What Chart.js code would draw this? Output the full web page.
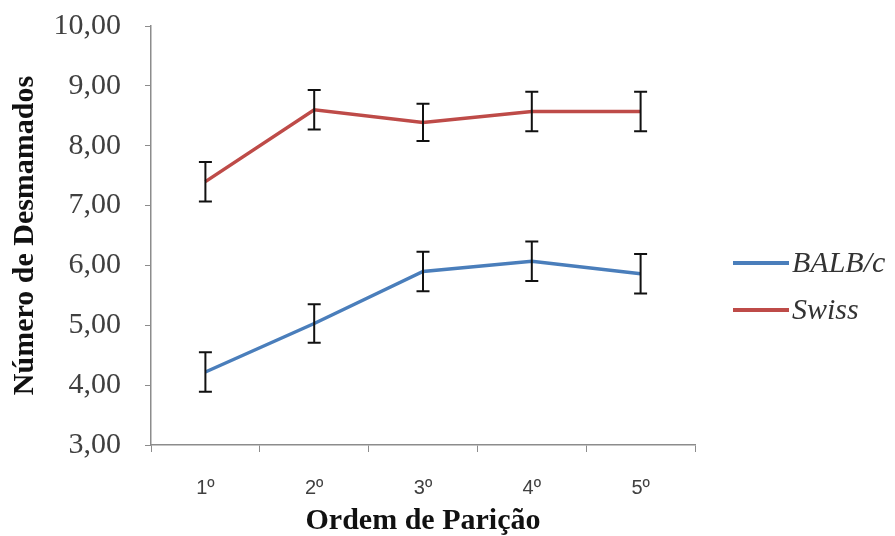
<!DOCTYPE html>
<html>
<head>
<meta charset="utf-8">
<script src="https://cdn.jsdelivr.net/npm/chart.js@4"></script>
<style>
    body { margin: 0; background: #fff; }
    #wrap { width: 895px; height: 536px; }
</style>
</head>
<body>
<div id="wrap"><canvas id="chart" width="895" height="536"></canvas></div>
<script>
// Data
const categories = ['1º', '2º', '3º', '4º', '5º'];
const balbValues = [4.22, 5.03, 5.90, 6.07, 5.86];
const balbErrors = [0.33, 0.32, 0.33, 0.33, 0.33];
const swissValues = [7.40, 8.60, 8.39, 8.57, 8.57];
const swissErrors = [0.33, 0.33, 0.31, 0.33, 0.33];
const yMin = 3;
const yMax = 10;

const axisGray = '#8c8c8c';

// Error bars drawn from the scales
const errorBarPlugin = {
    id: 'errorBars',
    afterDatasetsDraw(chart) {
        const ctx = chart.ctx;
        const xs = chart.scales.x;
        const ys = chart.scales.y;
        ctx.save();
        ctx.strokeStyle = '#111';
        ctx.lineWidth = 2;
        chart.data.datasets.forEach(ds => {
            ds.data.forEach((v, i) => {
                const e = ds.errors[i];
                const x = xs.getPixelForValue(i);
                const top = ys.getPixelForValue(v + e);
                const bot = ys.getPixelForValue(v - e);
                ctx.beginPath();
                ctx.moveTo(x, top); ctx.lineTo(x, bot);
                ctx.moveTo(x - 6.5, top); ctx.lineTo(x + 6.5, top);
                ctx.moveTo(x - 6.5, bot); ctx.lineTo(x + 6.5, bot);
                ctx.stroke();
            });
        });
        ctx.restore();
    }
};

// Legend on the right, Excel style
const sideLegendPlugin = {
    id: 'sideLegend',
    afterDraw(chart) {
        const ctx = chart.ctx;
        const rows = [263, 310];
        ctx.save();
        chart.data.datasets.forEach((ds, i) => {
            const y = rows[i];
            ctx.strokeStyle = ds.borderColor;
            ctx.lineWidth = 4;
            ctx.beginPath();
            ctx.moveTo(733, y);
            ctx.lineTo(789, y);
            ctx.stroke();
            ctx.fillStyle = '#333';
            ctx.font = 'italic 30px "Liberation Serif"';
            ctx.textBaseline = 'middle';
            ctx.fillText(ds.label, 792, y + 1);
        });
        ctx.restore();
    }
};

const ctx = document.getElementById('chart').getContext('2d');
new Chart(ctx, {
    type: 'line',
    data: {
        labels: categories,
        datasets: [
            {
                label: 'BALB/c',
                data: balbValues,
                errors: balbErrors,
                borderColor: '#4a7ebb',
                backgroundColor: '#4a7ebb',
                borderWidth: 3.5,
                pointRadius: 0,
                tension: 0
            },
            {
                label: 'Swiss',
                data: swissValues,
                errors: swissErrors,
                borderColor: '#be4b48',
                backgroundColor: '#be4b48',
                borderWidth: 3.5,
                pointRadius: 0,
                tension: 0
            }
        ]
    },
    options: {
        responsive: false,
        animation: false,
        layout: { padding: { left: 0, right: 200, top: 26, bottom: 0 } },
        plugins: {
            legend: { display: false },
            tooltip: { enabled: false }
        },
        scales: {
            x: {
                offset: true,
                grid: { display: true, drawOnChartArea: false, offset: true, tickLength: 7, color: axisGray },
                border: { color: axisGray, width: 1.5 },
                ticks: {
                    padding: 24,
                    color: '#404040',
                    font: { family: '"Liberation Sans"', size: 20 }
                },
                title: {
                    display: true,
                    text: 'Ordem de Parição',
                    color: '#111',
                    font: { family: '"Liberation Serif"', size: 30, weight: 'bold', lineHeight: 1 },
                    padding: { top: 0, bottom: 0 }
                },
                afterFit(scale) { scale.height = 91; }
            },
            y: {
                min: yMin,
                max: yMax,
                grid: { display: true, drawOnChartArea: false, tickLength: 6, color: axisGray },
                border: { color: axisGray, width: 1.5 },
                ticks: {
                    stepSize: 1,
                    padding: 24,
                    color: '#404040',
                    font: { family: '"Liberation Serif"', size: 30 },
                    callback: v => v.toFixed(2).replace('.', ',')
                },
                title: {
                    display: true,
                    text: 'Número de Desmamados',
                    color: '#111',
                    font: { family: '"Liberation Serif"', size: 30, weight: 'bold', lineHeight: 1 },
                    padding: { top: 10, bottom: 0 }
                },
                afterFit(scale) {
                    scale.width = 151;
                    scale.paddingTop = 0;
                    scale.paddingBottom = 0;
                }
            }
        }
    },
    plugins: [errorBarPlugin, sideLegendPlugin]
});
</script>
</body>
</html>
